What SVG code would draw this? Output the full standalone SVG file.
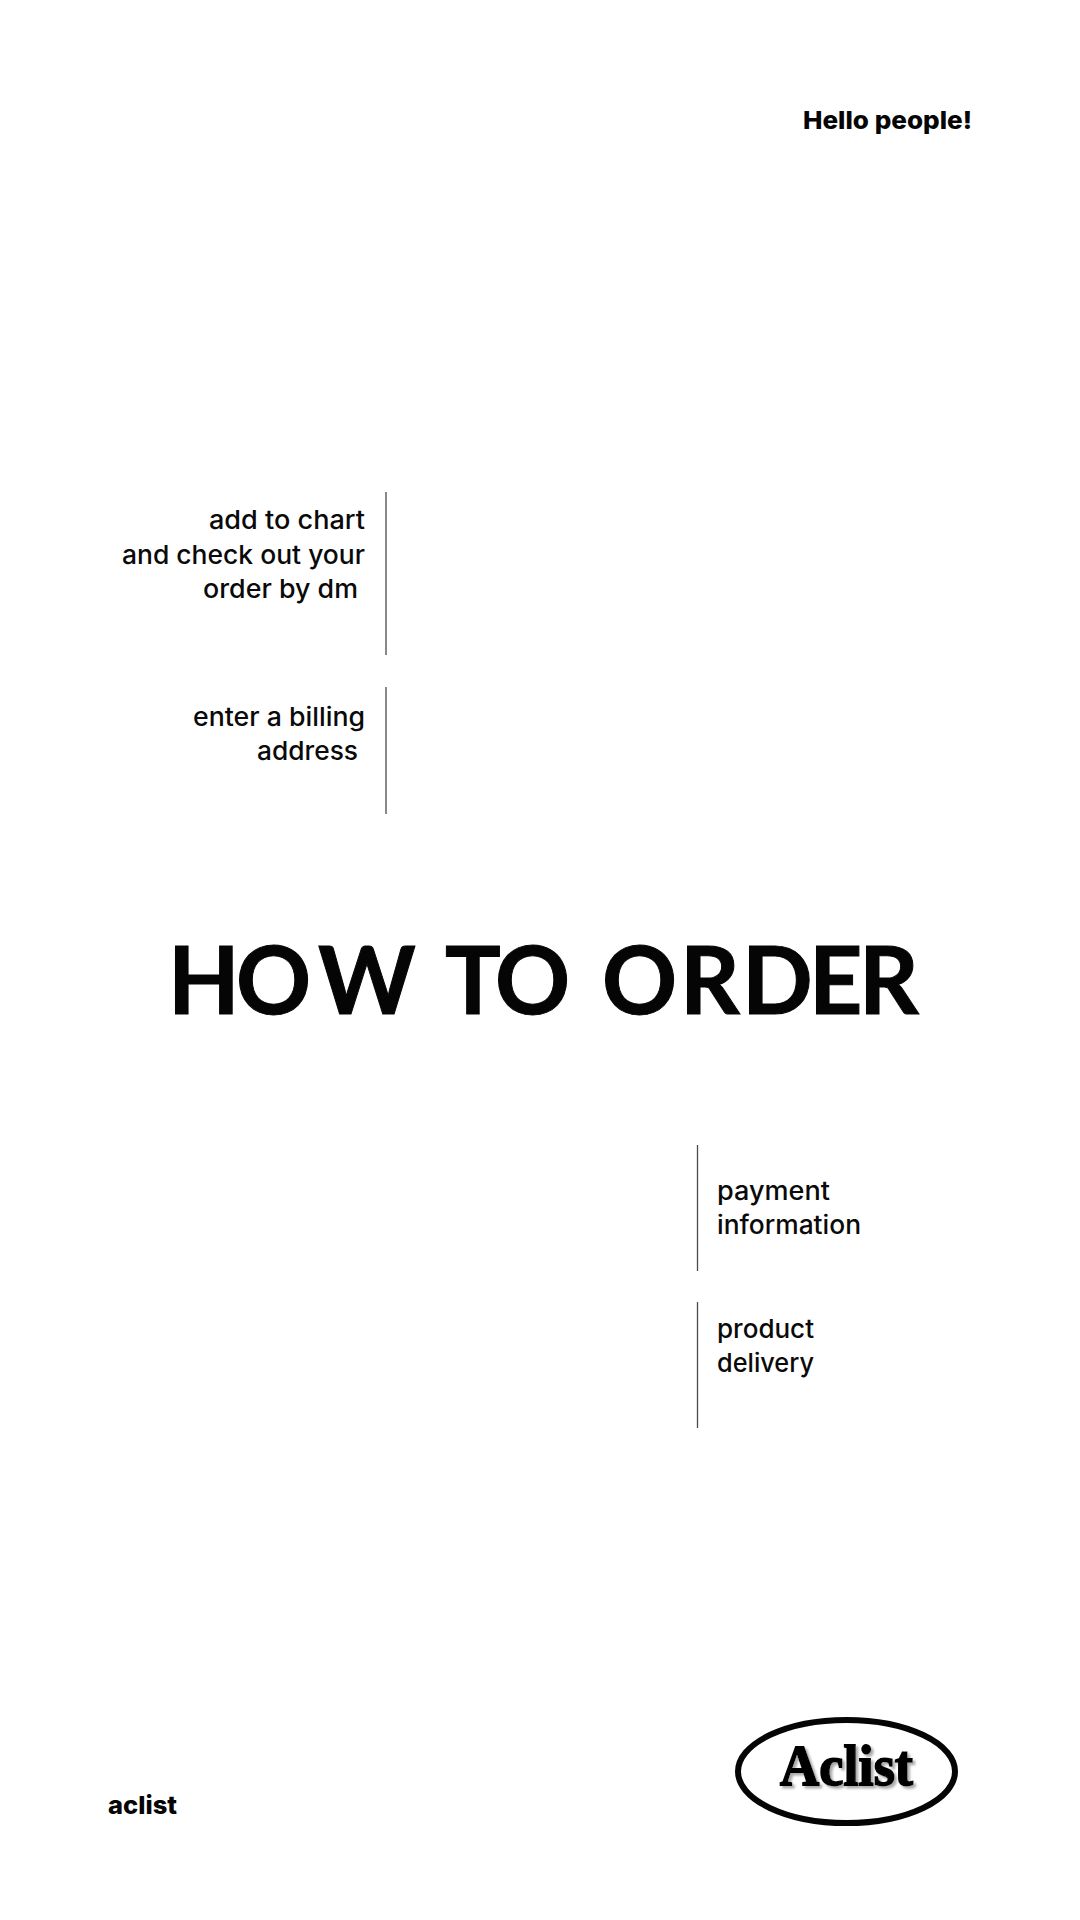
<svg xmlns="http://www.w3.org/2000/svg" width="1080" height="1920" viewBox="0 0 1080 1920">
  <style>
    .step { font-family: "Inter", "Liberation Sans", sans-serif; font-size: 26px; font-weight: 500; fill: #0a0a0a; }
    .tag { font-family: "Inter", "Liberation Sans", sans-serif; font-size: 25px; font-weight: 800; fill: #050505; }
    .title { font-family: "Lato", "Liberation Sans", sans-serif; font-size: 93px; font-weight: 700; fill: #050505; stroke: #050505; stroke-width: 1px; }
    .logo { font-family: "Liberation Serif", serif; font-size: 56px; font-weight: 700; fill: #050505; stroke: #050505; stroke-width: 1.8px; filter: url(#shade); }
    .rule { stroke: #4a4a4a; stroke-width: 1.3; fill: none; }
  </style>
  <defs>
    <filter id="shade" x="-10%" y="-20%" width="125%" height="150%">
      <feDropShadow dx="2.5" dy="2.5" stdDeviation="1.2" flood-color="#aaa"/>
    </filter>
  </defs>
  <rect width="1080" height="1920" fill="#fff"/>
  <g id="greeting"><text class="tag" x="803" y="129" textLength="169" lengthAdjust="spacingAndGlyphs">Hello people!</text></g>
  <g id="connectors">
    <line class="rule" x1="386" y1="492" x2="386" y2="655"/>
    <line class="rule" x1="386" y1="687" x2="386" y2="814"/>
    <line class="rule" x1="697.5" y1="1145" x2="697.5" y2="1271"/>
    <line class="rule" x1="697.5" y1="1302" x2="697.5" y2="1428"/>
  </g>
  <g id="step-add-to-chart">
    <text class="step" x="209" y="529" textLength="156" lengthAdjust="spacingAndGlyphs">add to chart</text>
    <text class="step" x="122" y="564" textLength="243" lengthAdjust="spacingAndGlyphs">and check out your</text>
    <text class="step" x="203" y="598" textLength="155" lengthAdjust="spacingAndGlyphs">order by dm</text>
  </g>
  <g id="step-billing">
    <text class="step" x="193" y="726" textLength="172" lengthAdjust="spacingAndGlyphs">enter a billing</text>
    <text class="step" x="257" y="760" textLength="101" lengthAdjust="spacingAndGlyphs">address</text>
  </g>
  <g id="title"><text class="title" x="168 236 318 420 445 495 575 602 680 742 809 859" y="1014">HOW TO ORDER</text></g>
  <g id="step-payment">
    <text class="step" x="717" y="1200" textLength="113" lengthAdjust="spacingAndGlyphs">payment</text>
    <text class="step" x="717" y="1234" textLength="144" lengthAdjust="spacingAndGlyphs">information</text>
  </g>
  <g id="step-delivery">
    <text class="step" x="717" y="1338" textLength="97" lengthAdjust="spacingAndGlyphs">product</text>
    <text class="step" x="717" y="1372" textLength="97" lengthAdjust="spacingAndGlyphs">delivery</text>
  </g>
  <g id="brand-name"><text class="tag" x="108" y="1814" textLength="69" lengthAdjust="spacingAndGlyphs">aclist</text></g>
  <g id="logo">
    <ellipse cx="846.5" cy="1771.5" rx="108.5" ry="51.5" fill="none" stroke="#050505" stroke-width="6"/>
    <text class="logo" x="780" y="1785" textLength="133" lengthAdjust="spacingAndGlyphs">Aclist</text>
  </g>
</svg>
